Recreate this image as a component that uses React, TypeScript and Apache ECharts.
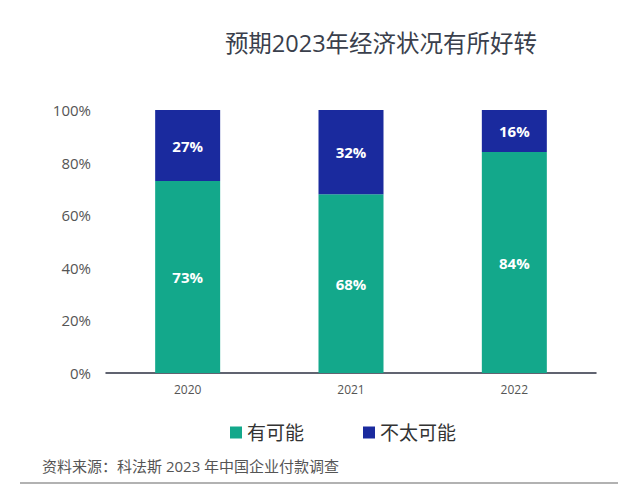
import React, { useEffect, useRef } from "react";
import * as echarts from "echarts";

const categories = ["2020", "2021", "2022"];
const likely = [73, 68, 84];
const unlikely = [27, 32, 16];
const seriesNames = ["有可能", "不太可能"];
const titleText = "预期2023年经济状况有所好转";
const sourceText = "资料来源：科法斯 2023 年中国企业付款调查";

const GREEN = "#13a88b";
const BLUE = "#1a2a9e";
const FONT = "'Open Sans', 'Noto Sans CJK SC', sans-serif";

export default function App() {
  const ref = useRef<HTMLDivElement>(null);
  useEffect(() => {
    document.body.style.margin = "0";
    if (!ref.current) return;
    const chart = echarts.init(ref.current, undefined, { renderer: "svg" });
    const labelCfg = {
      show: true,
      position: "inside",
      color: "#ffffff",
      fontWeight: "bold",
      fontSize: 15,
      fontFamily: FONT,
      formatter: "{c}%",
    };
    chart.setOption({
      animation: false,
      backgroundColor: "#ffffff",
      title: {
        text: titleText,
        left: 376,
        top: 26,
        textAlign: "center",
        textStyle: {
          fontSize: 23.5,
          fontWeight: "normal",
          color: "#3a3f4c",
          fontFamily: FONT,
        },
      },
      legend: {
        left: 225,
        top: 418,
        itemWidth: 12,
        itemHeight: 12,
        itemGap: 59,
        icon: "rect",
        textStyle: { fontSize: 19, color: "#333", fontFamily: FONT },
        data: seriesNames,
      },
      grid: { left: 106, right: 35, top: 110, bottom: 117 },
      xAxis: {
        type: "category",
        data: categories,
        axisTick: { show: false },
        axisLine: { lineStyle: { color: "#2d3142", width: 1.5 } },
        axisLabel: { color: "#555", fontSize: 12, margin: 10, fontFamily: FONT },
      },
      yAxis: {
        type: "value",
        min: 0,
        max: 100,
        interval: 20,
        axisLine: { show: false },
        axisTick: { show: false },
        splitLine: { show: false },
        axisLabel: {
          formatter: "{value}%",
          color: "#555",
          fontSize: 15,
          margin: 15,
          fontFamily: FONT,
        },
      },
      series: [
        {
          name: seriesNames[0],
          type: "bar",
          stack: "total",
          data: likely,
          barWidth: 65,
          itemStyle: { color: GREEN },
          label: labelCfg,
        },
        {
          name: seriesNames[1],
          type: "bar",
          stack: "total",
          data: unlikely,
          barWidth: 65,
          itemStyle: { color: BLUE },
          label: labelCfg,
        },
      ],
      graphic: [
        {
          type: "text",
          left: 42,
          top: 458,
          style: {
            text: sourceText,
            fontSize: 15,
            fill: "#555",
            fontFamily: FONT,
          },
        },
        {
          type: "line",
          shape: { x1: 20, y1: 483, x2: 618, y2: 483 },
          style: { stroke: "#999", lineWidth: 1.5 },
        },
      ],
    });
    return () => chart.dispose();
  }, []);
  return <div ref={ref} style={{ width: 631, height: 490 }} />;
}
